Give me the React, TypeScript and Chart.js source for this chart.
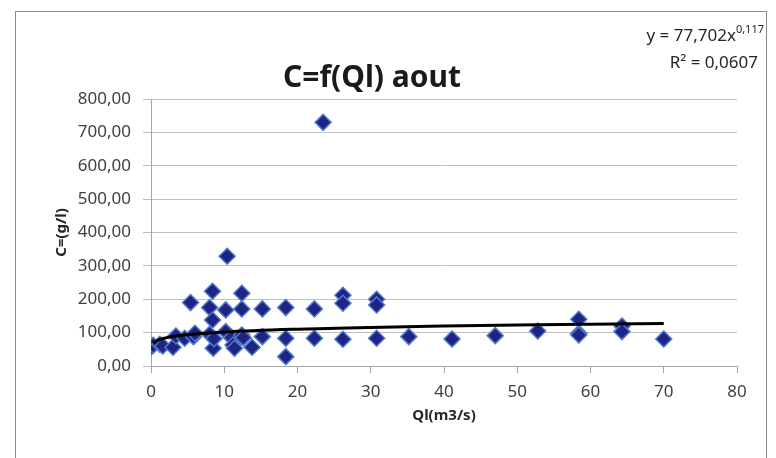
import { useEffect, useRef } from 'react';
import { Chart, registerables } from 'chart.js';

Chart.register(...registerables);

// Measured points: Ql (m3/s) and C (g/l)
const qlValues = [
  0, 0.3, 1.2, 1.6, 3.0, 3.4, 4.6, 5.4, 5.8, 6.0,
  8.0, 8.0, 8.4, 8.4, 8.5, 8.6, 10.2, 10.4, 10.2, 11.0,
  11.2, 11.4, 12.4, 12.4, 12.4, 12.6, 13.8, 15.2, 15.2, 18.4,
  18.4, 18.4, 22.3, 22.3, 23.5, 26.2, 26.2, 26.2, 30.8, 30.8,
  30.8, 35.2, 41.1, 47.0, 52.8, 58.4, 58.4, 58.4, 64.3, 64.3,
  70.0,
];
const cValues = [
  56, 62, 65, 60, 56, 90, 83, 190, 88, 98,
  175, 95, 224, 138, 53, 82, 168, 329, 103, 85,
  63, 53, 218, 171, 93, 85, 56, 171, 88, 175,
  83, 28, 171, 83, 730, 212, 188, 80, 200, 183,
  83, 88, 81, 91, 105, 140, 98, 93, 120, 103,
  81,
];

// Power trend line
const trendQl = [0.3, 0.5, 1, 2, 3, 5, 10, 20, 30, 40, 50, 60, 70];
const trendC = [67.5, 71.6, 77.7, 84.3, 88.4, 93.8, 101.7, 110.3, 115.7, 119.6, 122.8, 125.4, 127.7];

const chartTitle = 'C=f(Ql) aout';
const xAxisTitle = 'Ql(m3/s)';
const yAxisTitle = 'C=(g/l)';
const equationBase = 'y = 77,702x';
const equationExponent = '0,117';
const rSquaredText = 'R\u00B2 = 0,0607';

const FONT = '"Noto Sans", "Open Sans", sans-serif';

const decorPlugin = {
  id: 'decor',
  beforeDraw(chart: any) {
    const { ctx, width, height } = chart;
    ctx.save();
    ctx.fillStyle = '#ffffff';
    ctx.fillRect(0, 0, width, height);
    ctx.strokeStyle = '#8c8c8c';
    ctx.lineWidth = 1;
    ctx.strokeRect(15.5, 11.5, 751, 470);
    ctx.restore();
  },
  afterDraw(chart: any) {
    const { ctx } = chart;
    ctx.save();
    ctx.fillStyle = '#1a1a1a';
    ctx.textAlign = 'center';
    ctx.textBaseline = 'middle';
    ctx.font = `bold 30px ${FONT}`;
    ctx.fillText(chartTitle, 372, 78);

    ctx.fillStyle = '#262626';
    ctx.textBaseline = 'alphabetic';
    const baseFont = `17px ${FONT}`;
    const expFont = `11px ${FONT}`;
    ctx.font = expFont;
    const expW = ctx.measureText(equationExponent).width;
    ctx.font = baseFont;
    const baseW = ctx.measureText(equationBase).width;
    const rightEdge = 764;
    ctx.textAlign = 'left';
    ctx.fillText(equationBase, rightEdge - expW - baseW, 41);
    ctx.font = expFont;
    ctx.fillText(equationExponent, rightEdge - expW, 33);
    ctx.font = baseFont;
    ctx.textAlign = 'right';
    ctx.fillText(rSquaredText, 758, 68);
    ctx.restore();
  },
};

export default function App() {
  const canvasRef = useRef<HTMLCanvasElement | null>(null);

  useEffect(() => {
    if (!canvasRef.current) return;
    const scatterData = qlValues.map((x, i) => ({ x, y: cValues[i] }));
    const trendData = trendQl.map((x, i) => ({ x, y: trendC[i] }));
    const chart = new Chart(canvasRef.current, {
      type: 'scatter',
      data: {
        datasets: [
          {
            type: 'line',
            label: 'trend',
            data: trendData,
            borderColor: '#000000',
            borderWidth: 3,
            pointRadius: 0,
            cubicInterpolationMode: 'monotone',
            fill: false,
          } as any,
          {
            label: 'C',
            data: scatterData,
            pointStyle: 'rectRot',
            pointRadius: 8,
            pointBackgroundColor: '#1f2385',
            pointBorderColor: '#4f78c8',
            pointBorderWidth: 1.5,
            showLine: false,
          },
        ],
      },
      options: {
        animation: false,
        responsive: false,
        devicePixelRatio: 1,
        layout: { padding: { top: 99, right: 39, left: 0, bottom: 0 } },
        plugins: {
          legend: { display: false },
          tooltip: { enabled: false },
          title: { display: false },
        },
        scales: {
          x: {
            type: 'linear',
            min: 0,
            max: 80,
            ticks: {
              stepSize: 10,
              color: '#404040',
              font: { family: FONT, size: 17 },
              padding: 9,
            },
            grid: {
              drawOnChartArea: false,
              drawTicks: true,
              tickLength: 7,
              color: '#a6a6a6',
            },
            border: { display: true, color: '#a6a6a6' },
            title: {
              display: true,
              text: xAxisTitle,
              color: '#262626',
              font: { family: FONT, size: 15, weight: 'bold' },
              padding: { top: 0, bottom: 33 },
            },
            afterFit: (s: any) => {
              s.height = 92;
            },
          },
          y: {
            type: 'linear',
            min: 0,
            max: 800,
            ticks: {
              stepSize: 100,
              color: '#404040',
              font: { family: FONT, size: 17 },
              padding: 12,
              callback: (v: any) => Number(v).toFixed(2).replace('.', ','),
            },
            grid: {
              drawTicks: true,
              tickLength: 8,
              color: '#bfbfbf',
            },
            border: { display: true, color: '#a6a6a6' },
            title: {
              display: true,
              text: yAxisTitle,
              color: '#262626',
              font: { family: FONT, size: 15, weight: 'bold' },
              padding: { top: 53, bottom: 0 },
            },
            afterFit: (s: any) => {
              s.width = 151;
            },
          },
        },
      },
      plugins: [decorPlugin],
    });
    return () => chart.destroy();
  }, []);

  return (
    <div style={{ position: 'fixed', left: 0, top: 0, width: 776, height: 458 }}>
      <canvas ref={canvasRef} width={776} height={458} style={{ display: 'block' }} />
    </div>
  );
}
